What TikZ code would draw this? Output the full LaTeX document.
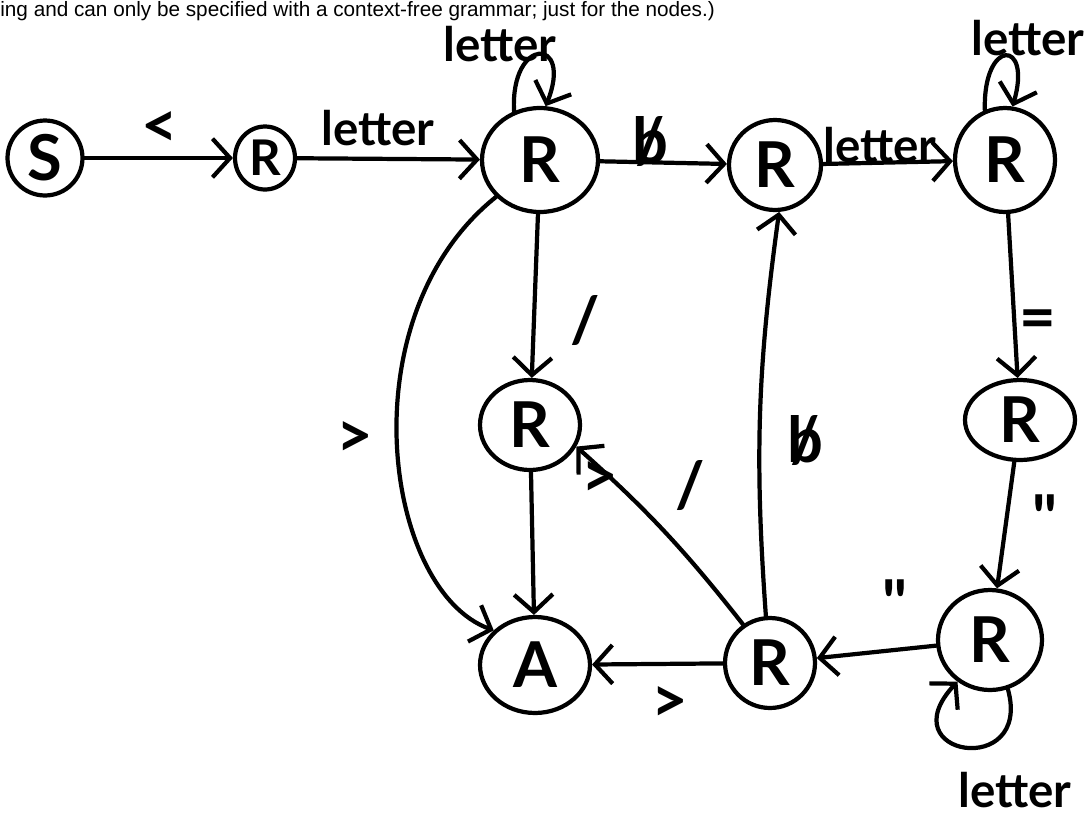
\documentclass[tikz,border=0pt]{standalone}
\usepackage{fontspec}
\setmainfont{Liberation Sans}
\newfontfamily\hand{Lato}
\usetikzlibrary{arrows.meta,shapes.geometric}
\newcommand\nb{\ooalign{b\cr\hidewidth/\hidewidth\cr}}
\begin{document}
\begin{tikzpicture}[x=0.02cm,y=-0.02cm,
  st/.style={ellipse,draw,line width=2.4pt,inner sep=0pt,font=\hand\bfseries\fontsize{36}{36}\selectfont},
  tr/.style={line width=2.4pt,line cap=round,-{Straight Barb[length=10pt,width=22pt]}},
  lab/.style={font=\hand\bfseries\fontsize{27}{27}\selectfont,inner sep=1pt},
  sym/.style={font=\hand\bfseries\fontsize{36}{36}\selectfont,inner sep=1pt}]
\useasboundingbox (0,0) rectangle (1086,829);
\node[anchor=base west,inner sep=0pt,font=\fontsize{11.8}{13}\selectfont] (cap) at (0,16) {ing and can only be specified with a context-free grammar; just for the nodes.)};
% states
\node[st,minimum width=1.5cm,minimum height=1.5cm] (S) at (45,158) {S};
\node[st,minimum width=1.2cm,minimum height=1.26cm,font=\hand\bfseries\fontsize{28}{28}\selectfont] (R1) at (265,158) {R};
\node[st,minimum width=2.32cm,minimum height=2.08cm] (R2) at (540,160) {R};
\node[st,minimum width=1.84cm,minimum height=1.8cm] (R3) at (775,165) {R};
\node[st,minimum width=2.0cm,minimum height=2.08cm] (R4) at (1005,160) {R};
\node[st,minimum width=2.0cm,minimum height=1.8cm] (R5) at (530,425) {R};
\node[st,minimum width=2.2cm,minimum height=1.92cm] (A) at (535,665) {A};
\node[st,minimum width=1.8cm,minimum height=1.8cm] (R6) at (770,663) {R};
\node[st,minimum width=2.2cm,minimum height=1.6cm] (R7) at (1020,420) {R};
\node[st,minimum width=2.08cm,minimum height=2.0cm] (R8) at (990,640) {R};
% transitions
\draw[tr] (S) -- (R1) node[sym] at (160,130) {<};
\draw[tr] (R1) -- (R2) node[lab] at (378,128) {letter};
\draw[tr] (R2.118) .. controls +(-4,-75) and +(28,-70) .. (R2.84) node[lab] at (500,44) {letter};
\draw[tr] (R2) -- (R3) node[sym] at (650,142) {\nb};
\draw[tr] (R3) -- (R4) node[lab] at (880,145) {letter};
\draw[tr] (R4.112) .. controls +(-2,-72) and +(20,-68) .. (R4.82) node[lab] at (1028,38) {letter};
\draw[tr] (R2) -- (R5) node[sym] at (585,320) {/};
\draw[tr] (R2.220) .. controls +(-150,120) and +(-110,-40) .. (A.140) node[sym] at (355,440) {>};
\draw[tr] (R5) -- (A) node[sym] at (600,480) {>};
\draw[tr] (R4) -- (R7) node[sym] at (1038,325) {=};
\draw[tr] (R7) -- (R8) node[sym] at (1045,518) {"};
\draw[tr] (R8) -- (R6) node[sym] at (895,603) {"};
\draw[tr] (R8.290) .. controls +(25,90) and +(-70,75) .. (R8.232) node[lab] at (1015,790) {letter};
\draw[tr] (R6) -- (A) node[sym] at (670,705) {>};
\draw[tr] (R6.125) to[bend right=5] (R5.-25) node[sym] at (690,485) {/};
\draw[tr] (R6.95) to[bend left=6] (R3.275) node[sym] at (805,440) {\nb};
\end{tikzpicture}
\end{document}
